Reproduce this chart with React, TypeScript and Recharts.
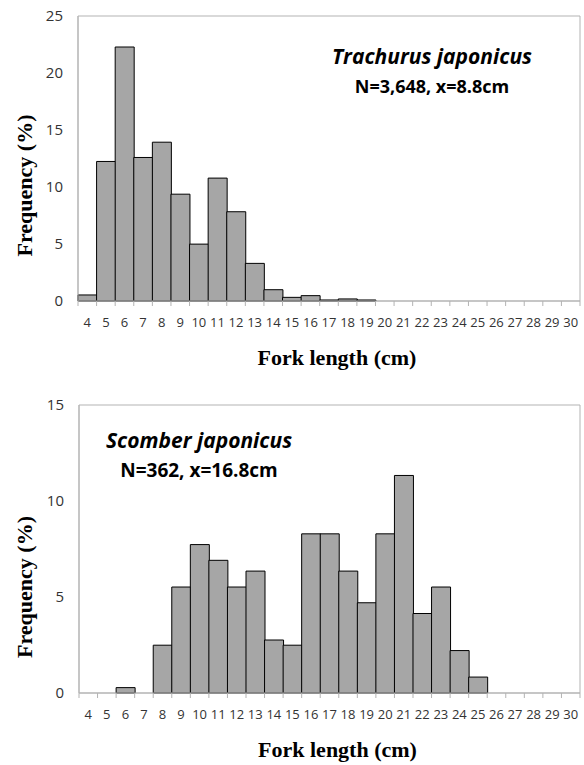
import { Bar, BarChart, Label, ReferenceArea, XAxis, YAxis } from "recharts"

const FORK_LENGTHS = [
  "4", "5", "6", "7", "8", "9", "10", "11", "12", "13", "14", "15", "16", "17",
  "18", "19", "20", "21", "22", "23", "24", "25", "26", "27", "28", "29", "30",
]
const TRACHURUS_FREQ = [
  0.53, 12.24, 22.28, 12.59, 13.93, 9.37, 4.99, 10.78, 7.83, 3.3, 0.99, 0.32, 0.47, 0.09,
  0.18, 0.09, 0, 0, 0, 0, 0, 0, 0, 0, 0, 0, 0,
]
const SCOMBER_FREQ = [
  0, 0, 0.28, 0, 2.49, 5.52, 7.73, 6.91, 5.52, 6.35, 2.76, 2.49, 8.29, 8.29,
  6.35, 4.7, 8.29, 11.33, 4.14, 5.52, 2.21, 0.83, 0, 0, 0, 0, 0,
]
const TRACHURUS_TICKS = [0, 5, 10, 15, 20, 25]
const SCOMBER_TICKS = [0, 5, 10, 15]

const AXIS_COLOR = "#b3b3b3"
const BAR_FILL = "#a6a6a6"
const TICK_COLOR = "#333333"
const SANS = "'Open Sans', 'Noto Sans', sans-serif"
const SERIF = "'Liberation Serif', 'Times New Roman', serif"

function BoundaryTick(props: any) {
  const { x, y, payload } = props
  const half = payload.offset ?? 502 / 27 / 2
  const isLast = payload.value === FORK_LENGTHS[FORK_LENGTHS.length - 1]
  return (
    <g>
      <line x1={x - half} x2={x - half} y1={y} y2={y + 5} stroke={AXIS_COLOR} />
      {isLast && <line x1={x + half} x2={x + half} y1={y} y2={y + 5} stroke={AXIS_COLOR} />}
      <text
        x={x}
        y={y + 21}
        textAnchor="middle"
        dominantBaseline="central"
        fill={TICK_COLOR}
        fontSize={13}
        fontFamily={SANS}
      >
        {payload.value}
      </text>
    </g>
  )
}

function Histogram({
  values,
  ticks,
  height,
  marginTop,
  yAxisWidth,
  xAxisHeight,
  yLabelShift,
}: {
  values: number[]
  ticks: number[]
  height: number
  marginTop: number
  yAxisWidth: number
  xAxisHeight: number
  yLabelShift: number
}) {
  const rows = FORK_LENGTHS.map((len, i) => ({ len, freq: values[i] }))
  const maxTick = ticks[ticks.length - 1]
  return (
    <BarChart
      width={584}
      height={height}
      data={rows}
      barCategoryGap={0}
      margin={{ top: marginTop, right: 4, bottom: 0, left: 0 }}
    >
      <ReferenceArea
        x1={FORK_LENGTHS[0]}
        x2={FORK_LENGTHS[FORK_LENGTHS.length - 1]}
        y1={0}
        y2={maxTick}
        fill="none"
        stroke={AXIS_COLOR}
        ifOverflow="visible"
      />
      <XAxis
        dataKey="len"
        interval={0}
        height={xAxisHeight}
        tickSize={0}
        tickMargin={0}
        tickLine={false}
        axisLine={{ stroke: AXIS_COLOR }}
        tick={BoundaryTick}
      >
        <Label
          content={({ viewBox }: any) => (
            <text
              x={viewBox.x + viewBox.width / 2 + 8}
              y={viewBox.y + 56}
              textAnchor="middle"
              dominantBaseline="central"
              fontFamily={SERIF}
              fontWeight="bold"
              fontSize={22}
              fill="#000"
            >
              Fork length (cm)
            </text>
          )}
        />
      </XAxis>
      <YAxis
        width={yAxisWidth}
        domain={[0, maxTick]}
        ticks={ticks}
        tickSize={0}
        tickMargin={15}
        tickLine={false}
        axisLine={{ stroke: AXIS_COLOR }}
        tick={{ fill: TICK_COLOR, fontSize: 15, fontFamily: SANS }}
      >
        <Label
          content={({ viewBox }: any) => {
            const cy = viewBox.y + viewBox.height / 2 + yLabelShift
            return (
              <text
                x={24}
                y={cy}
                transform={`rotate(-90 24 ${cy})`}
                textAnchor="middle"
                dominantBaseline="central"
                fontFamily={SERIF}
                fontWeight="bold"
                fontSize={22}
                fill="#000"
              >
                Frequency (%)
              </text>
            )
          }}
        />
      </YAxis>
      <Bar dataKey="freq" fill={BAR_FILL} stroke="#000" strokeWidth={1} isAnimationActive={false} />
    </BarChart>
  )
}

function SpeciesTitle({
  name,
  stats,
  cx,
  top,
  nameSize,
  statsSize,
}: {
  name: string
  stats: string
  cx: number
  top: number
  nameSize: number
  statsSize: number
}) {
  return (
    <div
      style={{
        position: "absolute",
        left: cx - 150,
        top,
        width: 300,
        textAlign: "center",
        fontFamily: SANS,
        fontWeight: 700,
        color: "#000",
      }}
    >
      <div style={{ fontStyle: "italic", fontSize: nameSize, lineHeight: "28px" }}>{name}</div>
      <div style={{ fontSize: statsSize, lineHeight: "24px", marginTop: 4 }}>{stats}</div>
    </div>
  )
}

export default function App() {
  return (
    <div style={{ position: "absolute", left: 0, top: 0, width: 584, height: 765, background: "#fff" }}>
      <div style={{ position: "absolute", left: 0, top: 0 }}>
        <Histogram
          values={TRACHURUS_FREQ}
          ticks={TRACHURUS_TICKS}
          height={380}
          marginTop={16}
          yAxisWidth={78}
          xAxisHeight={79}
          yLabelShift={27}
        />
      </div>
      <div style={{ position: "absolute", left: 0, top: 380 }}>
        <Histogram
          values={SCOMBER_FREQ}
          ticks={SCOMBER_TICKS}
          height={385}
          marginTop={25}
          yAxisWidth={79}
          xAxisHeight={72}
          yLabelShift={38}
        />
      </div>
      <SpeciesTitle name="Trachurus japonicus" stats="N=3,648, x=8.8cm" cx={432} top={42} nameSize={21} statsSize={18} />
      <SpeciesTitle name="Scomber japonicus" stats="N=362, x=16.8cm" cx={199} top={426} nameSize={21} statsSize={19} />
    </div>
  )
}
